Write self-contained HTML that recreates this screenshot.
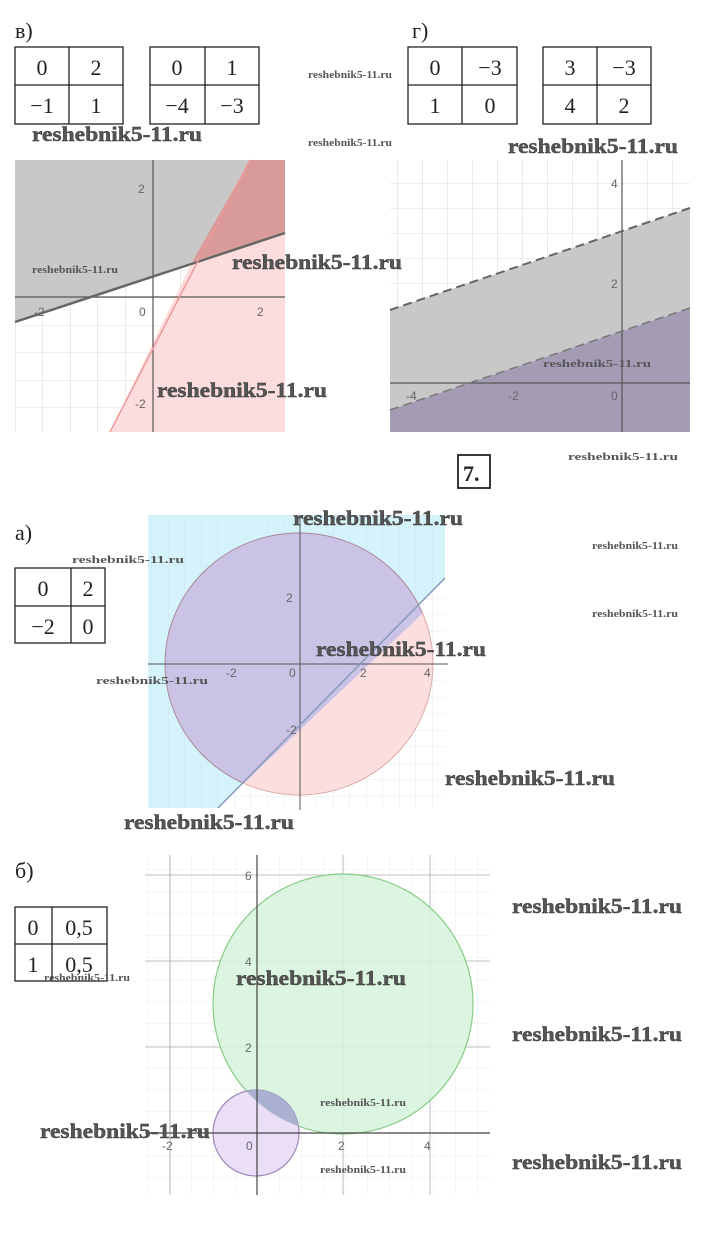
<!DOCTYPE html>
<html><head><meta charset="utf-8"><style>
html,body{margin:0;padding:0;background:#fff;width:717px;height:1251px;overflow:hidden}
svg{display:block}
.t{font-family:"Liberation Serif",serif;font-size:22px;fill:#222}
.n{font-family:"Liberation Sans",sans-serif;font-size:12px;fill:#666}
.w{font-family:"Liberation Serif",serif;font-weight:bold;fill:#555;stroke:#333;stroke-width:0.4}
.ws{font-family:"Liberation Serif",serif;font-weight:bold;fill:#555;font-size:11px}
</style></head><body>
<svg width="717" height="1251" viewBox="0 0 717 1251" xmlns="http://www.w3.org/2000/svg">
<defs>
<pattern id="g1" x="15" y="160" width="27.5" height="27.5" patternUnits="userSpaceOnUse"><path d="M0 0H27.5M0 0V27.5" stroke="#bbb" stroke-width="0.6" fill="none"/></pattern>
<pattern id="g2" x="622" y="383" width="25" height="25" patternUnits="userSpaceOnUse"><path d="M0 0H25M0 0V25" stroke="#bbb" stroke-width="0.6" fill="none"/></pattern>
<pattern id="g3" x="300" y="664" width="16.5" height="16.5" patternUnits="userSpaceOnUse"><path d="M0 0H16.5M0 0V16.5" stroke="#cde" stroke-width="0.6" fill="none"/></pattern>
<pattern id="g4" x="257" y="1133" width="22" height="22" patternUnits="userSpaceOnUse"><path d="M0 0H22M0 0V22" stroke="#ddd" stroke-width="0.6" fill="none"/></pattern>
</defs>

<text class="t" x="15" y="38">в)</text>
<text class="t" x="412" y="38">г)</text>
<g fill="none" stroke="#222" stroke-width="1.3">
<rect x="15" y="47" width="108" height="77"/><path d="M69 47V124M15 85H123"/>
<rect x="150" y="47" width="109" height="77"/><path d="M205 47V124M150 85H259"/>
<rect x="408" y="47" width="109" height="77"/><path d="M462 47V124M408 85H517"/>
<rect x="543" y="47" width="108" height="77"/><path d="M597 47V124M543 85H651"/>
</g>
<g class="t" text-anchor="middle" font-size="23">
<text x="42" y="75">0</text><text x="96" y="75">2</text><text x="42" y="113">−1</text><text x="96" y="113">1</text>
<text x="177" y="75">0</text><text x="232" y="75">1</text><text x="177" y="113">−4</text><text x="232" y="113">−3</text>
<text x="435" y="75">0</text><text x="490" y="75">−3</text><text x="435" y="113">1</text><text x="490" y="113">0</text>
<text x="570" y="75">3</text><text x="624" y="75">−3</text><text x="570" y="113">4</text><text x="624" y="113">2</text>
</g>

<rect x="15" y="160" width="270" height="272" fill="url(#g1)"/>
<polygon points="15,160 250,160 192,262 15,322" fill="#c8c8c8"/>
<polygon points="250,160 285,160 285,233 192,262" fill="#d99a9a"/>
<polygon points="192,262 285,233 285,432 110,432" fill="#fcdcdc"/>
<line x1="15" y1="297" x2="285" y2="297" stroke="#555" stroke-width="1.2"/>
<line x1="153" y1="160" x2="153" y2="432" stroke="#555" stroke-width="1.2"/>
<line x1="15" y1="322" x2="285" y2="233" stroke="#666" stroke-width="2.5"/>
<line x1="110" y1="432" x2="250" y2="160" stroke="#e99" stroke-width="1.5"/>
<g class="n"><text x="138" y="193">2</text><text x="34" y="316">-2</text><text x="139" y="316">0</text><text x="257" y="316">2</text><text x="135" y="408">-2</text></g>

<rect x="390" y="160" width="300" height="272" fill="url(#g2)"/>
<polygon points="390,310 690,208 690,308 390,410" fill="#c8c8c8"/>
<polygon points="390,410 690,308 690,432 390,432" fill="#a49cb4"/>
<line x1="390" y1="383" x2="690" y2="383" stroke="#555" stroke-width="1.2"/>
<line x1="622" y1="160" x2="622" y2="432" stroke="#555" stroke-width="1.2"/>
<line x1="390" y1="310" x2="690" y2="208" stroke="#666" stroke-width="2" stroke-dasharray="9,5"/>
<line x1="390" y1="410" x2="690" y2="308" stroke="#777" stroke-width="1.5" stroke-dasharray="9,5"/>
<g class="n"><text x="611" y="188">4</text><text x="611" y="288">2</text><text x="406" y="400">-4</text><text x="508" y="400">-2</text><text x="611" y="400">0</text></g>

<rect x="458" y="455" width="32" height="33" fill="none" stroke="#222" stroke-width="1.8"/>
<text class="t" x="463" y="481" font-weight="bold">7.</text>

<text class="t" x="15" y="540">а)</text>
<rect x="15" y="568" width="90" height="75" fill="none" stroke="#222" stroke-width="1.3"/><path d="M71 568V643M15 606H105" stroke="#222" stroke-width="1.3"/>
<g class="t" text-anchor="middle" font-size="23"><text x="43" y="596">0</text><text x="88" y="596">2</text><text x="43" y="634">−2</text><text x="88" y="634">0</text></g>
<polygon points="148,515 445,515 445,578 218,808 148,808" fill="#d5f3fa"/>
<rect x="148" y="515" width="297" height="293" fill="url(#g3)"/>
<clipPath id="cl"><polygon points="100,500 460,500 460,578 218,808 100,808"/></clipPath>
<clipPath id="cr"><polygon points="460,578 218,808 460,808"/></clipPath>
<ellipse cx="299" cy="664" rx="134" ry="131" fill="#cbc3e6" stroke="#a89" stroke-width="1" clip-path="url(#cl)"/>
<ellipse cx="299" cy="664" rx="134" ry="131" fill="#fcdede" stroke="#daa" stroke-width="1" clip-path="url(#cr)"/>
<line x1="148" y1="664" x2="448" y2="664" stroke="#555" stroke-width="1"/>
<line x1="300" y1="515" x2="300" y2="810" stroke="#555" stroke-width="1"/>
<line x1="218" y1="808" x2="445" y2="578" stroke="#8899bb" stroke-width="1.5"/>
<g class="n" font-size="10"><text x="226" y="677">-2</text><text x="289" y="677">0</text><text x="360" y="677">2</text><text x="424" y="677">4</text><text x="286" y="602">2</text><text x="286" y="734">-2</text></g>

<text class="t" x="15" y="878">б)</text>
<rect x="15" y="907" width="92" height="74" fill="none" stroke="#222" stroke-width="1.3"/><path d="M52 907V981M15 944H107" stroke="#222" stroke-width="1.3"/>
<g class="t" text-anchor="middle" font-size="23"><text x="33" y="935">0</text><text x="79" y="935">0,5</text><text x="33" y="972">1</text><text x="79" y="972">0,5</text></g>
<rect x="145" y="855" width="345" height="340" fill="url(#g4)"/>
<g stroke="#aaa" stroke-width="0.8"><line x1="145" y1="875" x2="490" y2="875"/><line x1="145" y1="961" x2="490" y2="961"/><line x1="145" y1="1047" x2="490" y2="1047"/><line x1="170" y1="855" x2="170" y2="1195"/><line x1="343" y1="855" x2="343" y2="1195"/><line x1="430" y1="855" x2="430" y2="1195"/></g>
<circle cx="343" cy="1004" r="130" fill="#d6f3dc" fill-opacity="0.85" stroke="#8c8" stroke-width="1.2"/>
<circle cx="256" cy="1133" r="43" fill="#e8d9f7" fill-opacity="0.85" stroke="#98b" stroke-width="1.2"/>
<clipPath id="cg"><circle cx="343" cy="1004" r="130"/></clipPath>
<circle cx="256" cy="1133" r="43" fill="#a9b0d0" clip-path="url(#cg)"/>
<line x1="145" y1="1133" x2="490" y2="1133" stroke="#444" stroke-width="1.2"/>
<line x1="257" y1="855" x2="257" y2="1195" stroke="#444" stroke-width="1.2"/>
<g class="n"><text x="245" y="880">6</text><text x="245" y="966">4</text><text x="245" y="1052">2</text><text x="162" y="1150">-2</text><text x="246" y="1150">0</text><text x="338" y="1150">2</text><text x="424" y="1150">4</text></g>

<g class="w" font-size="21">
<text x="32" y="141" textLength="170" lengthAdjust="spacingAndGlyphs">reshebnik5-11.ru</text>
<text x="508" y="153" textLength="170" lengthAdjust="spacingAndGlyphs">reshebnik5-11.ru</text>
<text x="232" y="269" textLength="170" lengthAdjust="spacingAndGlyphs">reshebnik5-11.ru</text>
<text x="157" y="397" textLength="170" lengthAdjust="spacingAndGlyphs">reshebnik5-11.ru</text>
<text x="293" y="525" textLength="170" lengthAdjust="spacingAndGlyphs">reshebnik5-11.ru</text>
<text x="316" y="656" textLength="170" lengthAdjust="spacingAndGlyphs">reshebnik5-11.ru</text>
<text x="445" y="785" textLength="170" lengthAdjust="spacingAndGlyphs">reshebnik5-11.ru</text>
<text x="124" y="829" textLength="170" lengthAdjust="spacingAndGlyphs">reshebnik5-11.ru</text>
<text x="512" y="913" textLength="170" lengthAdjust="spacingAndGlyphs">reshebnik5-11.ru</text>
<text x="236" y="985" textLength="170" lengthAdjust="spacingAndGlyphs">reshebnik5-11.ru</text>
<text x="512" y="1041" textLength="170" lengthAdjust="spacingAndGlyphs">reshebnik5-11.ru</text>
<text x="40" y="1138" textLength="170" lengthAdjust="spacingAndGlyphs">reshebnik5-11.ru</text>
<text x="512" y="1169" textLength="170" lengthAdjust="spacingAndGlyphs">reshebnik5-11.ru</text>
</g>
<g class="ws">
<text x="308" y="78" textLength="84" lengthAdjust="spacingAndGlyphs">reshebnik5-11.ru</text>
<text x="308" y="146" textLength="84" lengthAdjust="spacingAndGlyphs">reshebnik5-11.ru</text>
<text x="32" y="273" textLength="86" lengthAdjust="spacingAndGlyphs">reshebnik5-11.ru</text>
<text x="543" y="367" textLength="108" lengthAdjust="spacingAndGlyphs">reshebnik5-11.ru</text>
<text x="568" y="460" textLength="110" lengthAdjust="spacingAndGlyphs">reshebnik5-11.ru</text>
<text x="72" y="563" textLength="112" lengthAdjust="spacingAndGlyphs">reshebnik5-11.ru</text>
<text x="592" y="549" textLength="86" lengthAdjust="spacingAndGlyphs">reshebnik5-11.ru</text>
<text x="592" y="617" textLength="86" lengthAdjust="spacingAndGlyphs">reshebnik5-11.ru</text>
<text x="96" y="684" textLength="112" lengthAdjust="spacingAndGlyphs">reshebnik5-11.ru</text>
<text x="44" y="981" textLength="86" lengthAdjust="spacingAndGlyphs">reshebnik5-11.ru</text>
<text x="320" y="1106" textLength="86" lengthAdjust="spacingAndGlyphs">reshebnik5-11.ru</text>
<text x="320" y="1173" textLength="86" lengthAdjust="spacingAndGlyphs">reshebnik5-11.ru</text>
</g>
</svg>
</body></html>
